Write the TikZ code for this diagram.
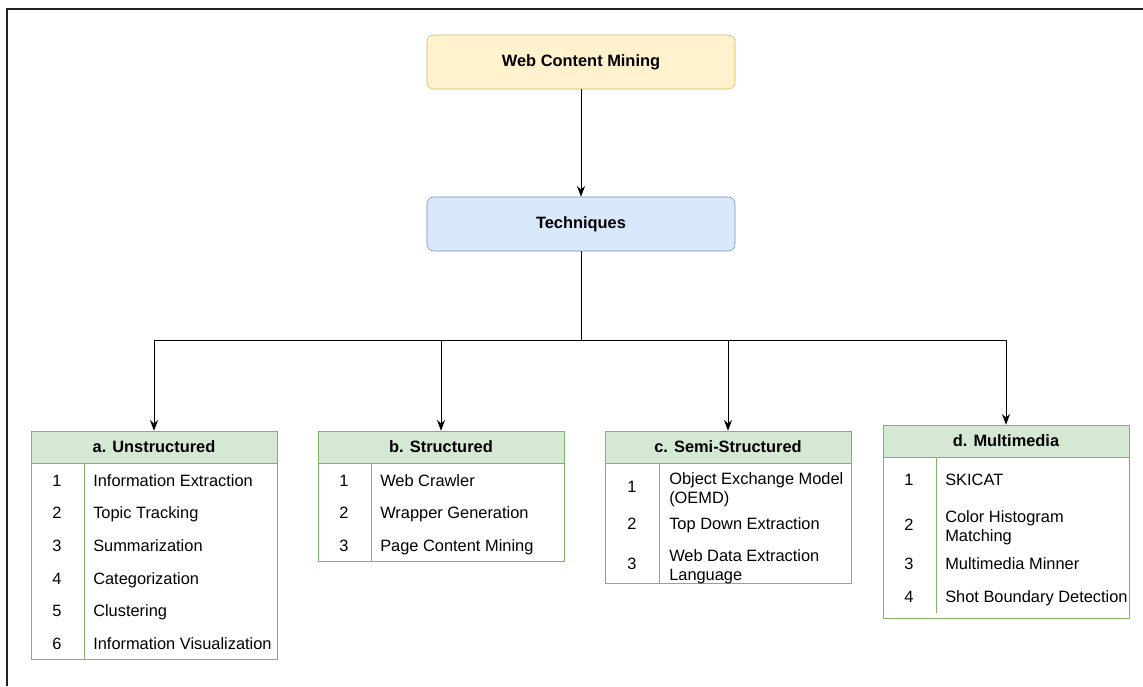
\documentclass[tikz,border=0pt]{standalone}
\usepackage{fontspec}
\setmainfont{Liberation Sans}
\usepackage{tikz}
\usetikzlibrary{arrows.meta, positioning}

\definecolor{YellowFill}{HTML}{FFF2CC}
\definecolor{YellowLine}{HTML}{D6B656}
\definecolor{BlueFill}{HTML}{DAE8FC}
\definecolor{BlueLine}{HTML}{6C8EBF}
\definecolor{GreenFill}{HTML}{D5E8D4}
\definecolor{GreenLine}{HTML}{82B366}
\definecolor{FrameGray}{HTML}{222222}

\begin{document}
\begin{tikzpicture}[x=0.75pt, y=-0.75pt,
  every node/.style={font=\fontsize{12.3}{14.5}\selectfont},
  root/.style ={draw=YellowLine, fill=YellowFill, rounded corners=5pt,
    minimum width=231pt, minimum height=40.5pt,
    font=\fontsize{12.3}{14.5}\selectfont\bfseries},
  % 
  tech/.style ={draw=BlueLine, fill=BlueFill, rounded corners=5pt,
    minimum width=231pt, minimum height=40.5pt,
    font=\fontsize{12.3}{14.5}\selectfont\bfseries},
  % 
  head/.style ={draw=GreenLine, fill=GreenFill, inner sep=0pt,
    minimum width=184.5pt, minimum height=24pt,
    font=\fontsize{12.3}{14.5}\selectfont\bfseries},
  body/.style ={draw=GreenLine, anchor=north, inner sep=0pt,
    minimum width=184.5pt},
  num/.style ={inner sep=0pt, yshift=-2pt, execute at begin node=\strut},
  item/.style ={anchor=west, align=left, inner sep=0pt, yshift=-2pt,
    execute at begin node=\strut},
  link/.style ={-{Stealth[length=8pt, width=6pt]}, line width=.75pt} ]

  \useasboundingbox (0,0) rectangle (1143,686);
  \draw [FrameGray, line width=1.2pt] (7,686) -- (7,9) -- (1143,9);

  \begin{scope}
    \node [root] (mining) at (581,62) {Web Content Mining};
    \node [tech] (techniques) at (581,224) {Techniques};
    \coordinate (split) at (581,340);
  \end{scope}

  %%%%%%%%%%%%%%%%%%%%%%%%%%%%%%% a. Unstructured
  \begin{scope}
    \node [head] (unstr) at (154,447) {a. Unstructured};
    \node [body, minimum height=147pt] (unstr-body) at (unstr.south) {};
    \draw [GreenLine] ([xshift=40.5pt]unstr-body.north west)
      -- ([xshift=40.5pt]unstr-body.south west);
    \node [num] (unstr-n1) at (57,480) {1};
    \node [item] (unstr-t1) at (93,480) {Information Extraction};
    \node [num] (unstr-n2) at (57,512) {2};
    \node [item] (unstr-t2) at (93,512) {Topic Tracking};
    \node [num] (unstr-n3) at (57,545) {3};
    \node [item] (unstr-t3) at (93,545) {Summarization};
    \node [num] (unstr-n4) at (57,578) {4};
    \node [item] (unstr-t4) at (93,578) {Categorization};
    \node [num] (unstr-n5) at (57,610) {5};
    \node [item] (unstr-t5) at (93,610) {Clustering};
    \node [num] (unstr-n6) at (57,643) {6};
    \node [item] (unstr-t6) at (93,643) {Information Visualization};
  \end{scope}

  %%%%%%%%%%%%%%%%%%%%%%%%%%%%%%% b. Structured
  \begin{scope}
    \node [head] (struct) at (441,447) {b. Structured};
    \node [body, minimum height=73.5pt] (struct-body) at (struct.south) {};
    \draw [GreenLine] ([xshift=40.5pt]struct-body.north west)
      -- ([xshift=40.5pt]struct-body.south west);
    \node [num] (struct-n1) at (344,480) {1};
    \node [item] (struct-t1) at (380,480) {Web Crawler};
    \node [num] (struct-n2) at (344,512) {2};
    \node [item] (struct-t2) at (380,512) {Wrapper Generation};
    \node [num] (struct-n3) at (344,545) {3};
    \node [item] (struct-t3) at (380,545) {Page Content Mining};
  \end{scope}

  %%%%%%%%%%%%%%%%%%%%%%%%%%%%%%% c. Semi-Structured
  \begin{scope}
    \node [head] (semi) at (728,447) {c. Semi-Structured};
    \node [body, minimum height=90pt] (semi-body) at (semi.south) {};
    \draw [GreenLine] ([xshift=41.25pt]semi-body.north west)
      -- ([xshift=41.25pt]semi-body.south west);
    \node [num] (semi-n1) at (632,486) {1};
    \node [item] (semi-t1) at (669,488) {Object Exchange Model\\(OEMD)};
    \node [num] (semi-n2) at (632,523) {2};
    \node [item] (semi-t2) at (669,523) {Top Down Extraction};
    \node [num] (semi-n3) at (632,563) {3};
    \node [item] (semi-t3) at (669,565) {Web Data Extraction\\Language};
  \end{scope}

  %%%%%%%%%%%%%%%%%%%%%%%%%%%%%%% d. Multimedia
  \begin{scope}
    \node [head] (multi) at (1006,441) {d. Multimedia};
    \node [body, minimum height=120.75pt] (multi-body) at (multi.south) {};
    \draw [GreenLine] ([xshift=40.5pt]multi-body.north west)
      -- ([xshift=40.5pt, yshift=4.5pt]multi-body.south west);
    \node [num] (multi-n1) at (909,479) {1};
    \node [item] (multi-t1) at (945,479) {SKICAT};
    \node [num] (multi-n2) at (909,524) {2};
    \node [item] (multi-t2) at (945,526) {Color Histogram\\Matching};
    \node [num] (multi-n3) at (909,563) {3};
    \node [item] (multi-t3) at (945,563) {Multimedia Minner};
    \node [num] (multi-n4) at (909,596) {4};
    \node [item] (multi-t4) at (945,596) {Shot Boundary Detection};
  \end{scope}

  \begin{scope}
    \draw [link] (mining) -- (techniques);
    \draw [line width=.75pt] (techniques) -- (split);
    \draw [link] (split) -| (unstr);
    \draw [link] (split) -| (struct);
    \draw [link] (split) -| (semi);
    \draw [link] (split) -| (multi);
  \end{scope}

\end{tikzpicture}
\end{document}
